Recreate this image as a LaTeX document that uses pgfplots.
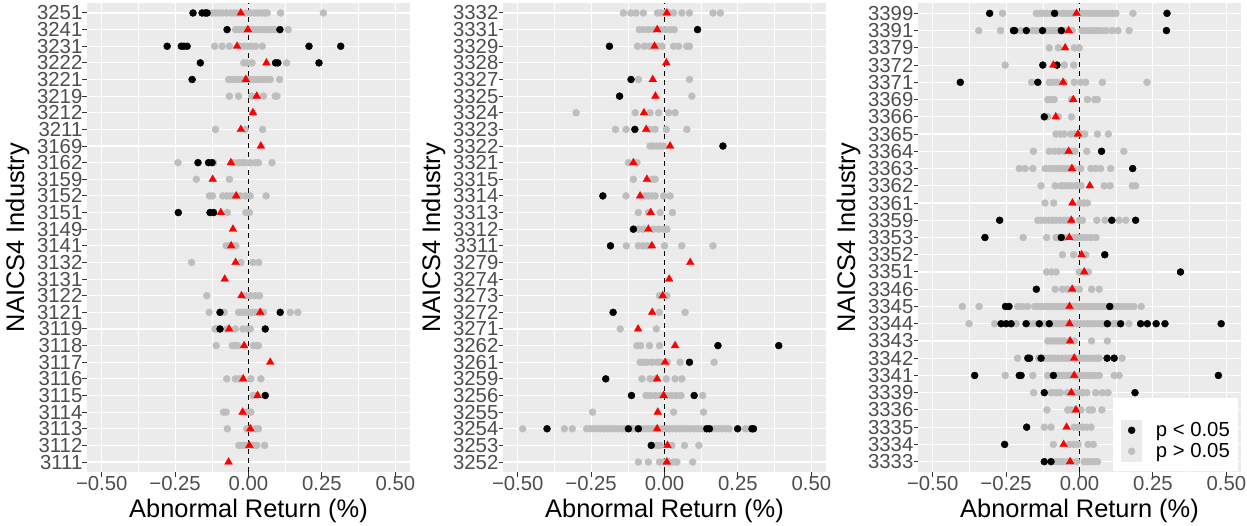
\documentclass[border=0pt]{standalone}
\usepackage{fontspec}
\setmainfont{Liberation Sans}
\usepackage{pgfplots}
\pgfplotsset{compat=1.18}
\definecolor{bggray}{HTML}{EBEBEB}
\definecolor{ptgray}{HTML}{BEBEBE}
\definecolor{textgray}{HTML}{4D4D4D}
\definecolor{tickgray}{HTML}{333333}
\definecolor{keybg}{HTML}{EBEBEB}
\newcommand\ticksize{\fontsize{20.3}{24}\selectfont}
\newcommand\titlesize{\fontsize{25.4}{30}\selectfont}
\pgfplotsset{
  panel/.style={
    scale only axis, width=323pt, height=469pt,
    xmin=-0.55, xmax=0.55,
    xtick={-0.5,-0.25,0,0.25,0.5},
    xticklabels={−0.50,−0.25,0.00,0.25,0.50},
    minor x tick num=1,
    grid=both,
    major grid style={white, line width=1.1pt},
    minor grid style={white, line width=0.55pt},
    axis background/.style={fill=bggray},
    axis line style={draw=none},
    tick pos=left, tick align=outside,
    major tick length=4.5pt, minor tick length=0pt,
    tick style={color=tickgray, line width=1pt},
    ticklabel style={font=\ticksize, text=textgray},
    xticklabel style={anchor=base, yshift=-14pt},
    yticklabel style={anchor=east, inner sep=0pt},
    xlabel={Abnormal Return (\%)}, ylabel={NAICS4 Industry},
    label style={font=\titlesize},
    xlabel style={at={(axis description cs:0.5,-0.098)}, anchor=base},
    ylabel style={at={(axis description cs:-0.215,0.5)}, anchor=center},
  },
  graypts/.style={only marks, mark=*, mark size=3.5pt, color=ptgray, line width=0.4pt, forget plot},
  blackpts/.style={only marks, mark=*, mark size=3.5pt, color=black, line width=0.4pt, forget plot},
  redpts/.style={only marks, mark=triangle*, mark size=4.5pt, color=red, line width=0.3pt, forget plot},
  zeroline/.style={black, line width=1.3pt, dash pattern=on 5.5pt off 3.5pt, forget plot},
}
\begin{document}
\begin{tikzpicture}
\useasboundingbox (0pt,0pt) rectangle (1247pt,-525pt);
% ---------------- Panel 1 ----------------
\begin{axis}[panel, at={(87pt,-3pt)}, anchor=north west,
  ymin=0.4, ymax=28.6, ytick={1,...,28},
  yticklabels={3111,3112,3113,3114,3115,3116,3117,3118,3119,3121,3122,3131,3132,3141,3149,3151,3152,3159,3162,3169,3211,3212,3219,3221,3222,3231,3241,3251}]
\addplot[graypts] coordinates {
(-0.124,28)(-0.112,28)(-0.100,28)(-0.088,28)(-0.075,28)(-0.061,28)(-0.050,28)(-0.040,28)(-0.030,28)(-0.010,28)(0.005,28)(0.020,28)(0.032,28)(0.044,28)(0.055,28)(0.064,28)(0.109,28)(0.255,28)
(-0.044,27)(-0.032,27)(-0.020,27)(-0.010,27)(0.005,27)(0.017,27)(0.029,27)(0.041,27)(0.053,27)(0.065,27)(0.077,27)(0.088,27)(0.135,27)
(-0.115,26)(-0.090,26)(-0.065,26)(-0.030,26)(-0.015,26)(0.000,26)(0.012,26)(0.024,26)(0.047,26)
(-0.016,25)(-0.004,25)(0.012,25)(0.130,25)
(-0.068,24)(-0.057,24)(-0.045,24)(-0.034,24)(-0.023,24)(-0.011,24)(0.000,24)(0.006,24)(0.017,24)(0.028,24)(0.040,24)(0.051,24)(0.063,24)(0.074,24)(0.106,24)
(-0.065,23)(-0.034,23)(0.011,23)(0.051,23)(0.091,23)(0.097,23)
(0.015,22)
(-0.1125,21)(-0.011,21)(0.048,21)
(-0.240,19)(-0.119,19)(-0.051,19)(-0.034,19)(-0.023,19)(-0.011,19)(0.006,19)(0.023,19)(0.034,19)(0.080,19)
(-0.178,18)(-0.065,18)
(-0.133,17)(-0.123,17)(-0.0875,17)(-0.074,17)(-0.0625,17)(-0.051,17)(-0.040,17)(-0.028,17)(-0.011,17)(0.006,17)(0.060,17)
(-0.072,16)(-0.009,16)(0.003,16)
(-0.076,14)(-0.065,14)(-0.051,14)(-0.043,14)
(-0.194,13)(-0.026,13)(0.015,13)(0.035,13)
(-0.142,11)(-0.011,11)(0.006,11)(0.023,11)(0.0375,11)
(-0.134,10)(-0.083,10)(-0.034,10)(-0.023,10)(-0.011,10)(0.000,10)(0.011,10)(0.023,10)(0.034,10)(0.051,10)(0.142,10)(0.168,10)
(-0.114,9)(-0.106,9)(-0.074,9)(-0.045,9)(-0.019,9)(-0.006,9)(0.006,9)
(-0.110,8)(-0.055,8)(-0.045,8)(-0.0375,8)(0.017,8)(0.028,8)(0.034,8)
(-0.074,6)(-0.045,6)(-0.034,6)(-0.023,6)(0.008,6)(0.042,6)
(0.015,5)(0.028,5)
(-0.085,4)(-0.076,4)(-0.006,4)(0.008,4)
(-0.072,3)(-0.006,3)(0.008,3)(0.023,3)(0.034,3)
(-0.033,2)(-0.019,2)(-0.006,2)(0.015,2)(0.028,2)(0.055,2)
};
\addplot[blackpts] coordinates {
(-0.189,28)(-0.158,28)(-0.147,28)(-0.141,28)
(-0.073,27)(0.107,27)
(-0.277,26)(-0.229,26)(-0.220,26)(-0.209,26)(0.206,26)(0.314,26)
(-0.164,25)(0.092,25)(0.100,25)(0.240,25)
(-0.192,24)
(-0.172,19)(-0.136,19)(-0.124,19)
(-0.239,16)(-0.131,16)(-0.119,16)
(-0.097,10)(0.108,10)
(-0.097,9)(0.057,9)
(0.057,5)
};
\addplot[zeroline] coordinates {(0,0.4)(0,28.6)};
\addplot[redpts] coordinates {
(-0.026,28)(-0.002,27)(-0.039,26)(0.061,25)(-0.009,24)(0.028,23)(0.015,22)(-0.026,21)(0.042,20)(-0.060,19)(-0.122,18)(-0.042,17)(-0.094,16)(-0.053,15)(-0.059,14)(-0.044,13)(-0.081,12)(-0.024,11)(0.040,10)(-0.066,9)(-0.015,8)(0.074,7)(-0.018,6)(0.031,5)(-0.020,4)(0.006,3)(0.003,2)(-0.068,1)
};
\end{axis}
% ---------------- Panel 2 ----------------
\begin{axis}[panel, at={(503pt,-3pt)}, anchor=north west,
  ymin=0.4, ymax=28.6, ytick={1,...,28},
  yticklabels={3252,3253,3254,3255,3256,3259,3261,3262,3271,3272,3273,3274,3279,3311,3312,3313,3314,3315,3321,3322,3323,3324,3325,3327,3328,3329,3331,3332}]
\addplot[graypts] coordinates {
(-0.140,28)(-0.115,28)(-0.097,28)(-0.072,28)(-0.024,28)(-0.0125,28)(0.002,28)(0.015,28)(0.031,28)(0.059,28)(0.085,28)(0.165,28)(0.190,28)
(-0.086,27)(-0.072,27)(-0.055,27)(-0.0375,27)(-0.015,27)(0.002,27)(0.019,27)(0.033,27)
(-0.092,26)(-0.069,26)(-0.051,26)(-0.0375,26)(-0.024,26)(-0.009,26)(0.031,26)(0.048,26)(0.076,26)(0.085,26)
(-0.089,24)(0.085,24)
(0.093,23)
(-0.301,22)(-0.100,22)(-0.049,22)(-0.020,22)(0.014,22)(0.036,22)
(-0.167,21)(-0.131,21)(-0.051,21)(-0.032,21)(0.006,21)(0.076,21)
(-0.049,20)(-0.038,20)(-0.026,20)(-0.015,20)(-0.003,20)
(-0.123,19)(-0.094,19)
(-0.106,18)(-0.043,18)(-0.032,18)
(-0.131,17)(-0.066,17)(-0.055,17)(-0.043,17)(-0.032,17)(-0.003,17)(0.019,17)
(-0.089,16)(-0.055,16)(-0.015,16)(0.027,16)
(-0.089,15)(-0.072,15)(-0.038,15)(-0.020,15)(-0.003,15)(0.008,15)
(-0.130,14)(-0.089,14)(-0.074,14)(-0.060,14)(-0.045,14)(0.000,14)(0.059,14)(0.165,14)
(-0.017,11)(-0.003,11)(0.008,11)
(-0.018,10)(0.070,10)
(-0.151,9)(-0.028,9)
(-0.094,8)(-0.081,8)(-0.051,8)(-0.017,8)
(-0.083,7)(-0.072,7)(-0.060,7)(-0.043,7)(-0.026,7)(-0.015,7)(0.010,7)(0.053,7)(0.169,7)
(-0.077,6)(-0.049,6)(-0.032,6)(0.006,6)(0.036,6)(0.059,6)
(-0.063,5)(-0.049,5)(-0.032,5)(-0.015,5)(0.008,5)(0.025,5)(0.040,5)(0.056,5)(0.130,5)
(-0.245,4)(0.031,4)(0.133,4)
(-0.483,3)(-0.341,3)(-0.314,3)(-0.265,3)(-0.253,3)(-0.241,3)(-0.229,3)(-0.217,3)(-0.205,3)(-0.193,3)(-0.181,3)(-0.169,3)(-0.157,3)(-0.145,3)(-0.133,3)(-0.110,3)(-0.098,3)(-0.080,3)(-0.068,3)(-0.056,3)(-0.044,3)(-0.032,3)(-0.020,3)(-0.008,3)(0.004,3)(0.016,3)(0.028,3)(0.040,3)(0.052,3)(0.064,3)(0.076,3)(0.088,3)(0.100,3)(0.112,3)(0.124,3)(0.136,3)(0.160,3)(0.172,3)(0.184,3)(0.196,3)(0.208,3)(0.220,3)(0.275,3)(0.290,3)
(-0.026,2)(-0.015,2)(0.025,2)(0.068,2)(0.117,2)
(-0.089,1)(-0.055,1)(-0.017,1)(-0.003,1)(0.014,1)(0.031,1)(0.042,1)(0.096,1)
};
\addplot[blackpts] coordinates {
(0.1125,27)(-0.1875,26)(-0.114,24)(-0.153,23)(-0.101,21)(0.199,20)(-0.210,17)(-0.106,15)(-0.184,14)(-0.175,10)
(0.182,8)(0.389,8)(0.085,7)(-0.200,6)(-0.1125,5)(0.101,5)
(-0.400,3)(-0.123,3)(-0.089,3)(0.144,3)(0.153,3)(0.249,3)(0.298,3)(0.303,3)
(-0.045,2)
};
\addplot[zeroline] coordinates {(0,0.4)(0,28.6)};
\addplot[redpts] coordinates {
(0.008,28)(-0.025,27)(-0.034,26)(0.006,25)(-0.040,24)(-0.031,23)(-0.070,22)(-0.0625,21)(0.019,20)(-0.106,19)(-0.060,18)(-0.083,17)(-0.047,16)(-0.055,15)(-0.043,14)(0.0875,13)(0.016,12)(-0.006,11)(-0.042,10)(-0.090,9)(0.036,8)(0.002,7)(-0.025,6)(-0.003,5)(-0.023,4)(-0.025,3)(0.010,2)(0.008,1)
};
\end{axis}
% ---------------- Panel 3 ----------------
\begin{axis}[panel, at={(918pt,-3pt)}, anchor=north west,
  ymin=0.4, ymax=27.6, ytick={1,...,27},
  yticklabels={3333,3334,3335,3336,3339,3341,3342,3343,3344,3345,3346,3351,3352,3353,3359,3361,3362,3363,3364,3365,3366,3369,3371,3372,3379,3391,3399},
  legend style={at={(1,0)}, anchor=south east, xshift=-3pt, yshift=1pt,
    fill=white, draw=none, inner xsep=8pt, inner ysep=9pt,
    font=\ticksize, row sep=0pt, nodes={inner sep=0pt},
    /tikz/every odd column/.append style={column sep=14pt}},
  legend cell align=left]
\addplot[graypts] coordinates {
(-0.262,27)(-0.147,27)(-0.135,27)(-0.122,27)(-0.110,27)(-0.097,27)(-0.075,27)(-0.058,27)(-0.045,27)(-0.033,27)(-0.020,27)(0.009,27)(0.022,27)(0.035,27)(0.048,27)(0.061,27)(0.074,27)(0.087,27)(0.100,27)(0.112,27)(0.124,27)(0.182,27)
(-0.343,26)(-0.269,26)(-0.200,26)(-0.160,26)(-0.145,26)(-0.110,26)(-0.098,26)(-0.086,26)(-0.075,26)(-0.050,26)(-0.025,26)(0.009,26)(0.022,26)(0.035,26)(0.048,26)(0.061,26)(0.074,26)(0.090,26)(0.111,26)(0.131,26)(0.169,26)
(-0.103,25)(-0.072,25)(-0.018,25)(-0.001,25)
(-0.253,24)(-0.052,24)(-0.020,24)
(-0.163,23)(-0.103,23)(-0.090,23)(-0.075,23)(-0.052,23)(-0.018,23)(0.004,23)(0.021,23)(0.078,23)(0.230,23)
(-0.108,22)(-0.097,22)(-0.086,22)(-0.027,22)(0.027,22)(0.052,22)(0.061,22)
(-0.108,21)(-0.072,21)(-0.027,21)
(-0.080,20)(-0.065,20)(-0.052,20)(-0.030,20)(-0.016,20)(0.005,20)(0.018,20)(0.061,20)(0.098,20)
(-0.157,19)(-0.103,19)(-0.086,19)(-0.069,19)(-0.052,19)(-0.027,19)(-0.016,19)(0.025,19)(0.151,19)
(-0.205,18)(-0.185,18)(-0.159,18)(-0.117,18)(-0.103,18)(-0.088,18)(-0.075,18)(-0.062,18)(-0.050,18)(-0.037,18)(-0.020,18)(0.004,18)(0.039,18)(0.055,18)(0.072,18)(0.106,18)
(-0.131,17)(-0.083,17)(-0.063,17)(-0.052,17)(-0.041,17)(-0.027,17)(-0.012,17)(0.005,17)(0.084,17)(0.104,17)(0.180,17)(0.191,17)
(-0.1175,16)(-0.088,16)(0.002,16)(0.016,16)(0.027,16)
(-0.142,15)(-0.130,15)(-0.118,15)(-0.105,15)(-0.092,15)(-0.080,15)(-0.066,15)(-0.052,15)(-0.040,15)(-0.028,15)(0.000,15)(0.010,15)(0.059,15)(0.087,15)(0.135,15)(0.158,15)
(-0.192,14)(-0.112,14)(-0.080,14)(-0.069,14)(-0.050,14)(-0.018,14)(-0.005,14)(0.010,14)(0.025,14)(0.040,14)(0.056,14)
(-0.058,13)(-0.020,13)(0.021,13)
(-0.112,12)(-0.095,12)(-0.080,12)(-0.001,12)(0.016,12)(0.030,12)
(-0.083,11)(-0.058,11)(-0.041,11)(-0.018,11)(-0.001,11)(0.041,11)(0.067,11)
(-0.399,10)(-0.342,10)(-0.210,10)(-0.195,10)(-0.177,10)(-0.153,10)(-0.141,10)(-0.129,10)(-0.117,10)(-0.105,10)(-0.093,10)(-0.081,10)(-0.069,10)(-0.057,10)(-0.045,10)(-0.033,10)(-0.021,10)(-0.009,10)(0.003,10)(0.015,10)(0.027,10)(0.039,10)(0.051,10)(0.063,10)(0.075,10)(0.087,10)(0.099,10)(0.115,10)(0.128,10)(0.141,10)(0.155,10)(0.170,10)(0.185,10)(0.210,10)
(-0.376,9)(-0.289,9)(-0.215,9)(-0.170,9)(-0.155,9)(-0.120,9)(-0.092,9)(-0.080,9)(-0.068,9)(-0.056,9)(-0.044,9)(-0.032,9)(-0.020,9)(-0.008,9)(0.004,9)(0.016,9)(0.028,9)(0.040,9)(0.052,9)(0.064,9)(0.076,9)(0.088,9)(0.115,9)(0.125,9)(0.168,9)
(-0.108,8)(-0.097,8)(-0.085,8)(-0.075,8)(-0.064,8)(-0.052,8)(-0.035,8)(-0.018,8)(0.041,8)(0.095,8)
(-0.211,7)(-0.139,7)(-0.120,7)(-0.108,7)(-0.096,7)(-0.084,7)(-0.072,7)(-0.060,7)(-0.048,7)(-0.036,7)(-0.024,7)(-0.012,7)(0.000,7)(0.012,7)(0.024,7)(0.036,7)(0.048,7)(0.060,7)(0.067,7)(0.145,7)
(-0.253,6)(-0.159,6)(-0.109,6)(-0.080,6)(-0.068,6)(-0.056,6)(-0.044,6)(-0.032,6)(-0.020,6)(-0.008,6)(0.004,6)(0.016,6)(0.028,6)(0.040,6)(0.052,6)(0.067,6)(0.118,6)(0.135,6)
(-0.156,5)(-0.097,5)(-0.085,5)(-0.075,5)(-0.065,5)(-0.041,5)(-0.018,5)(-0.005,5)(0.010,5)(0.025,5)(0.055,5)(0.078,5)(0.097,5)
(-0.111,4)(-0.040,4)(-0.028,4)(-0.016,4)(0.005,4)(0.033,4)(0.044,4)(0.076,4)
(-0.120,3)(-0.097,3)(-0.018,3)(-0.005,3)(0.010,3)(0.024,3)(0.039,3)
(-0.089,2)(-0.035,2)(-0.020,2)(-0.005,2)(0.029,2)(0.047,2)
(-0.080,1)(-0.068,1)(-0.055,1)(-0.041,1)(-0.028,1)(-0.010,1)(0.016,1)(0.028,1)(0.040,1)(0.053,1)(0.061,1)
};
\addplot[blackpts] coordinates {
(-0.306,27)(-0.085,27)(0.298,27)
(-0.225,26)(-0.221,26)(-0.181,26)(-0.126,26)(-0.062,26)(0.296,26)
(-0.125,24)(-0.077,24)
(-0.406,23)(-0.142,23)
(-0.120,21)(0.075,19)(0.181,18)
(-0.272,15)(0.110,15)(0.191,15)
(-0.322,14)(-0.062,14)
(0.086,13)(0.344,12)(-0.147,11)
(-0.252,10)(-0.240,10)(0.103,10)
(-0.267,9)(-0.250,9)(-0.233,9)(-0.182,9)(-0.137,9)(-0.103,9)(0.095,9)(0.140,9)(0.208,9)(0.231,9)(0.261,9)(0.291,9)(0.4825,9)
(-0.176,7)(-0.170,7)(-0.131,7)(0.094,7)(0.118,7)
(-0.357,6)(-0.205,6)(-0.199,6)(-0.089,6)(0.473,6)
(-0.120,5)(0.189,5)
(-0.180,3)(-0.255,2)(-0.120,1)(-0.097,1)
};
\addplot[zeroline] coordinates {(0,0.4)(0,27.6)};
\addplot[redpts] coordinates {
(-0.010,27)(-0.037,26)(-0.049,25)(-0.089,24)(-0.056,23)(-0.021,22)(-0.081,21)(-0.005,20)(-0.037,19)(-0.026,18)(0.035,17)(-0.024,16)(-0.028,15)(-0.035,14)(0.007,13)(0.016,12)(-0.025,11)(-0.034,10)(-0.034,9)(-0.032,8)(-0.018,7)(-0.018,6)(-0.028,5)(-0.012,4)(-0.044,3)(-0.054,2)(-0.032,1)
};
\addlegendimage{legend image code/.code={
  \fill[keybg] (0pt,-10.3pt) rectangle (20pt,10.3pt);
  \path (0pt,23.3pt);
  \fill[black] (10pt,0pt) circle (3.5pt);}}
\addlegendentry{p < 0.05}
\addlegendimage{legend image code/.code={
  \fill[keybg] (0pt,-10.3pt) rectangle (20pt,10.3pt);
  \fill[ptgray] (10pt,0pt) circle (3.5pt);}}
\addlegendentry{p > 0.05}
\end{axis}
\end{tikzpicture}
\end{document}
